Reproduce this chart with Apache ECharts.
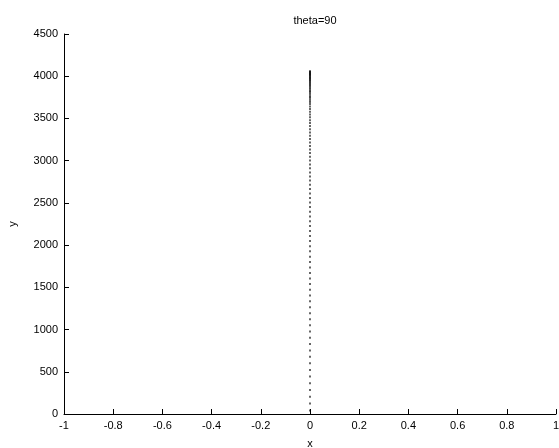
<!DOCTYPE html>
<html>
<head>
<meta charset="utf-8">
<script src="https://cdn.jsdelivr.net/npm/echarts@6/dist/echarts.min.js"></script>
<style>
  html, body { margin: 0; padding: 0; background: #fff; }
  #chart { width: 559px; height: 448px; }
</style>
</head>
<body>
<div id="chart"></div>
<script>
const titleText = 'theta=90'
const xLabel = 'x'
const yLabel = 'y'
const xRange = [-1, 1]
const yRange = [0, 4500]

// trajectory points, all at x = 0
const pointX = 0
const pointY = [
  4060, 4052, 4044, 4036, 4027, 4018, 4009, 3999, 3989, 3978, 3967, 3955,
  3943, 3930, 3917, 3903, 3889, 3874, 3858, 3842, 3826, 3809, 3791, 3773,
  3755, 3736, 3716, 3696, 3670, 3641, 3612, 3580, 3548, 3515, 3480, 3446,
  3410, 3372, 3335, 3296, 3257, 3216, 3175, 3133, 3090, 3046, 3001, 2955,
  2909, 2861, 2813, 2764, 2714, 2663, 2611, 2559, 2505, 2451, 2396, 2340,
  2283, 2226, 2167, 2108, 2048, 1987, 1926, 1863, 1800, 1736, 1671, 1605,
  1539, 1471, 1403, 1334, 1264, 1194, 1122, 1050, 977, 903, 829, 753,
  677, 600, 522, 444, 365, 285, 204, 123, 41
]

const font = 'Liberation Sans, Arial, sans-serif'

const chart = echarts.init(document.getElementById('chart'))

const option = {
  animation: false,
  backgroundColor: '#fff',
  title: {
    text: titleText,
    left: 310,
    top: 10,
    textAlign: 'center',
    textStyle: { fontFamily: font, fontSize: 11, fontWeight: 'normal', color: '#000' }
  },
  grid: {
    left: 64,
    right: 3,
    top: 34,
    bottom: 34,
    outerBoundsMode: 'none'
  },
  xAxis: {
    type: 'value',
    min: xRange[0],
    max: xRange[1],
    interval: 0.2,
    name: xLabel,
    nameLocation: 'middle',
    nameGap: 24,
    nameTextStyle: { fontFamily: font, fontSize: 11, color: '#000' },
    axisLine: { onZero: false, lineStyle: { color: '#000', width: 1 } },
    axisTick: { inside: true, length: 5, lineStyle: { color: '#000' } },
    axisLabel: { fontFamily: font, fontSize: 11, color: '#000', margin: 6 },
    splitLine: { show: false }
  },
  yAxis: {
    type: 'value',
    min: yRange[0],
    max: yRange[1],
    interval: 500,
    name: yLabel,
    nameLocation: 'middle',
    nameGap: 46,
    nameTextStyle: { fontFamily: font, fontSize: 11, color: '#000' },
    axisLine: { show: true, onZero: false, lineStyle: { color: '#000', width: 1 } },
    axisTick: { show: true, inside: true, length: 5, lineStyle: { color: '#000' } },
    axisLabel: {
      fontFamily: font, fontSize: 11, color: '#000', margin: 6,
      formatter: v => String(v)
    },
    splitLine: { show: false }
  },
  series: [
    {
      type: 'scatter',
      symbol: 'rect',
      symbolSize: [1.5, 2],
      itemStyle: { color: '#000' },
      data: pointY.map(y => [pointX, y])
    }
  ]
}

chart.setOption(option)
</script>
</body>
</html>
